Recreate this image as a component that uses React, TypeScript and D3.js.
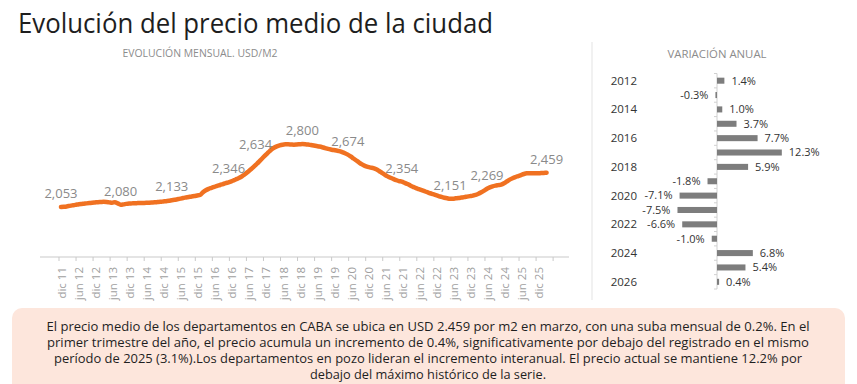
import React from "react";
import * as d3 from "d3";

// ---- Data ----
const title = "Evolución del precio medio de la ciudad";
const leftTitle = "EVOLUCIÓN MENSUAL. USD/M2";
const rightTitle = "VARIACIÓN ANUAL";

// Monthly price USD/m2, dic 11 ... mar 26
const monthlyPrice = [
  2053, 2056, 2060, 2066, 2072, 2078, 2083, 2088, 2092, 2096, 2100, 2104,
  2107, 2110, 2112, 2114, 2112, 2108, 2104, 2110, 2096, 2080, 2084, 2090,
  2094, 2096, 2098, 2099, 2100, 2101, 2102, 2104, 2106, 2108, 2111, 2114,
  2118, 2122, 2126, 2133, 2138, 2145, 2152, 2160, 2166, 2172, 2178, 2183,
  2190, 2196, 2228, 2252, 2268, 2280, 2292, 2304, 2314, 2325, 2336, 2346,
  2358, 2372, 2386, 2402, 2424, 2448, 2475, 2503, 2534, 2566, 2600, 2634,
  2668, 2700, 2732, 2756, 2772, 2784, 2792, 2796, 2796, 2794, 2792, 2794,
  2797, 2800, 2798, 2794, 2788, 2782, 2776, 2770, 2762, 2752, 2742, 2734,
  2728, 2722, 2716, 2704, 2690, 2674, 2652, 2628, 2604, 2580, 2558, 2540,
  2528, 2520, 2514, 2500, 2480, 2458, 2436, 2416, 2400, 2386, 2372, 2360,
  2354, 2340, 2325, 2308, 2292, 2276, 2264, 2252, 2240, 2228, 2216, 2205,
  2194, 2183, 2172, 2163, 2156, 2151, 2152, 2156, 2160, 2165, 2170, 2176,
  2182, 2188, 2196, 2210, 2228, 2248, 2269, 2286, 2298, 2306, 2312, 2318,
  2334, 2356, 2378, 2394, 2408, 2420, 2432, 2444, 2452, 2454, 2453, 2452,
  2453, 2455, 2457, 2459,
];

// Labeled points (month index)
const labeledIdx = [0, 21, 39, 59, 71, 85, 101, 120, 137, 150, 171];

const tickLabels = [
  "dic 11", "jun 12", "dic 12", "jun 13", "dic 13", "jun 14", "dic 14", "jun 15",
  "dic 15", "jun 16", "dic 16", "jun 17", "dic 17", "jun 18", "dic 18", "jun 19",
  "dic 19", "jun 20", "dic 20", "jun 21", "dic 21", "jun 22", "dic 22", "jun 23",
  "dic 23", "jun 24", "dic 24", "jun 25", "dic 25",
];

const years = [
  "2012", "2013", "2014", "2015", "2016", "2017", "2018", "2019",
  "2020", "2021", "2022", "2023", "2024", "2025", "2026",
];
const annualChange = [1.4, -0.3, 1.0, 3.7, 7.7, 12.3, 5.9, -1.8, -7.1, -7.5, -6.6, -1.0, 6.8, 5.4, 0.4];

const bodyLines = [
  "El precio medio de los departamentos en CABA se ubica en USD 2.459 por m2 en marzo, con una suba mensual de 0.2%. En el",
  "primer trimestre del año, el precio acumula un incremento de 0.4%, significativamente por debajo del registrado en el mismo",
  "período de 2025 (3.1%).Los departamentos en pozo lideran el incremento interanual. El precio actual se mantiene 12.2% por",
  "debajo del máximo histórico de la serie.",
];

const FONT = "'Open Sans', 'Noto Sans', sans-serif";

export default function App() {
  const W = 857, H = 384;

  // left chart scales
  const x = d3.scaleLinear().domain([0, 171]).range([61, 546.6]);
  const y = d3.scaleLinear().domain([2053, 2800]).range([207, 144]);
  const line = d3
    .line<number>()
    .x((_, i) => x(i))
    .y((d) => y(d))
    .curve(d3.curveMonotoneX);
  const fmt = d3.format(",");
  const axisY = 257;
  const tickIdx = d3.range(0, 30).map((k) => k * 6);

  // right chart scales
  const bx = d3.scaleLinear().domain([-10, 15]).range([664.3, 796.05]);
  const by = d3.scaleBand<string>().domain(years).range([73.5, 289]).paddingInner(0.58).paddingOuter(0.29);
  const step = by.step();
  const pctFmt = (v: number) => `${v.toFixed(1)}%`;

  const bodyWidths = [763, 762, 748, 236];

  return (
    <svg width={W} height={H} style={{ position: "absolute", left: 0, top: 0, background: "#fff" }} fontFamily={FONT}>
      <rect x={0} y={0} width={W} height={H} fill="#fff" />
      {/* Title */}
      <text x={18} y={33} fontSize={26.5} fill="#1e1e1e" textLength={475} lengthAdjust="spacingAndGlyphs">
        {title}
      </text>
      <text x={200} y={57} fontSize={10} fill="#8c8c8c" textAnchor="middle" textLength={155} lengthAdjust="spacingAndGlyphs">
        {leftTitle}
      </text>

      {/* Left axis */}
      <line x1={40} x2={569} y1={axisY} y2={axisY} stroke="#c9c9c9" strokeWidth={1} />
      {tickIdx.map((i) => (
        <line key={"t" + i} x1={x(i) - 2} x2={x(i) - 2} y1={axisY} y2={axisY + 4} stroke="#c9c9c9" strokeWidth={1} />
      ))}
      {tickLabels.map((lab, k) => {
        const tx = x(k * 6) + 1;
        return (
          <text
            key={lab}
            transform={`translate(${tx},267) rotate(-90)`}
            textAnchor="end"
            dy="0.35em"
            fontSize={11.5}
            fill="#a0a0a0"
          >
            {lab}
          </text>
        );
      })}

      {/* Line */}
      <path d={line(monthlyPrice) || ""} fill="none" stroke="#f07121" strokeWidth={4.5} strokeLinejoin="round" strokeLinecap="round" />
      {labeledIdx.map((i) => (
        <text
          key={"l" + i}
          x={x(i) + (i === 71 ? -7 : 0)}
          y={y(monthlyPrice[i]) - 9}
          fontSize={13}
          fill="#8a8a8a"
          textAnchor="middle"
        >
          {fmt(monthlyPrice[i])}
        </text>
      ))}

      {/* Divider */}
      <line x1={592} x2={592} y1={42} y2={300} stroke="#ececec" strokeWidth={1.5} />

      {/* Right chart */}
      <text x={717} y={58} fontSize={10} fill="#8c8c8c" textAnchor="middle" textLength={99} lengthAdjust="spacingAndGlyphs">
        {rightTitle}
      </text>
      <line x1={bx(0)} x2={bx(0)} y1={73.5} y2={289} stroke="#d0d0d0" strokeWidth={1} />
      {d3.range(0, years.length + 1).map((k) => {
        const yy = 73.5 + (k) * step;
        return <line key={"bt" + k} x1={bx(0) - 3} x2={bx(0)} y1={yy} y2={yy} stroke="#d0d0d0" strokeWidth={1} />;
      })}
      {years.map((yr, i) => {
        const v = annualChange[i];
        const y0 = by(yr)!;
        const bw = by.bandwidth();
        const xa = bx(Math.min(0, v));
        const xb = bx(Math.max(0, v));
        const cy = y0 + bw / 2;
        return (
          <g key={yr}>
            <rect x={xa} y={y0} width={Math.max(1, xb - xa)} height={bw} fill="#7d7d7d" />
            <text
              x={v >= 0 ? xb + 7 : xa - 7}
              y={cy}
              dy="0.35em"
              fontSize={11}
              fill="#333"
              textAnchor={v >= 0 ? "start" : "end"}
            >
              {pctFmt(v)}
            </text>
            {i % 2 === 0 && (
              <text x={637} y={cy} dy="0.35em" fontSize={11.5} fill="#333" textAnchor="end">
                {yr}
              </text>
            )}
          </g>
        );
      })}

      {/* Body box */}
      <rect x={12} y={308} width={833} height={90} rx={10} ry={10} fill="#fde6dc" />
      {bodyLines.map((t, i) => (
        <text
          key={"b" + i}
          x={428}
          y={331 + i * 16}
          fontSize={12.5}
          fill="#1f1f1f"
          textAnchor="middle"
          textLength={bodyWidths[i]}
          lengthAdjust="spacingAndGlyphs"
        >
          {t}
        </text>
      ))}
    </svg>
  );
}
